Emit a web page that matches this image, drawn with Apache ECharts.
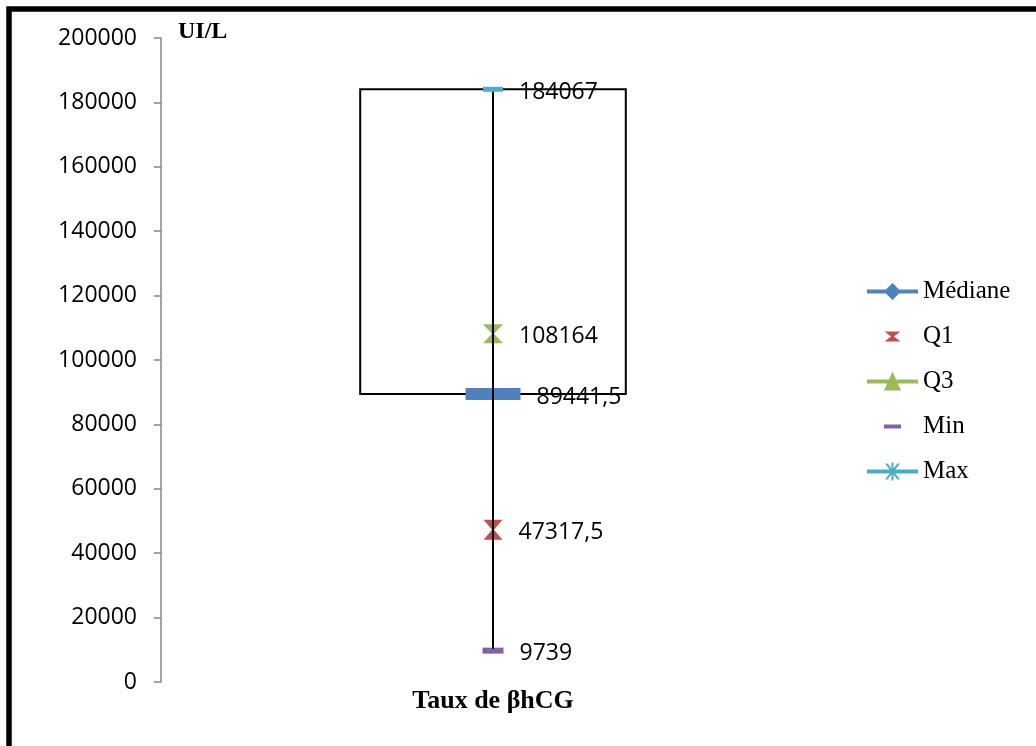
<!DOCTYPE html>
<html>
<head>
<meta charset="utf-8">
<script src="https://cdn.jsdelivr.net/npm/echarts@6/dist/echarts.min.js"></script>
<style>
html,body{margin:0;padding:0;background:#fff;}
#chart{width:1036px;height:746px;}
</style>
</head>
<body>
<div id="chart"></div>
<script>
const categories = ['Taux de βhCG'];
const seriesNames = ['Médiane', 'Q1', 'Q3', 'Min', 'Max'];
const medianValues = [89441.5];
const q1Values = [47317.5];
const q3Values = [108164];
const minValues = [9739];
const maxValues = [184067];
const yMin = 0, yMax = 200000, yInterval = 20000;
const yAxisName = 'UI/L';

const NUM_FONT = 'Open Sans';
const SERIF = 'Liberation Serif';

const colors = {
  'Médiane': '#4F81BD',
  'Q1': '#C0504D',
  'Q3': '#9BBB59',
  'Min': '#8064A2',
  'Max': '#4BACC6'
};

// legend icons (51 x 20 boxes)
const B = 'M0,0 M51,20 ';
const lineBar = 'M0,8 L51,8 L51,12 L0,12 Z ';
const legendIcons = {
  'Médiane': 'path://' + B + lineBar + 'M25.5,1.5 L34,10 L25.5,18.5 L17,10 Z',
  'Q1': 'path://' + B + 'M17.5,5 L33.5,5 L27,10 L33.5,15 L17.5,15 L24,10 Z',
  'Q3': 'path://' + B + lineBar + 'M25.5,0 L34,19 L17,19 Z',
  'Min': 'path://' + B + 'M17,8 L34,8 L34,12 L17,12 Z',
  'Max': 'path://' + B + lineBar + 'M18,2 L20.5,2 L33,18 L30.5,18 Z M20.5,18 L18,18 L30.5,2 L33,2 Z M24.5,1 L26.5,1 L26.5,19 L24.5,19 Z'
};

const hourglass = 'path://M0,0 L20,0 L11,10 L20,20 L0,20 L9,10 Z';

function fmt(p) { return String(p.value).replace('.', ','); }

function pointSeries(name, values, symbol, size) {
  return {
    name: name,
    type: 'scatter',
    data: values,
    symbol: symbol,
    symbolSize: size,
    itemStyle: { color: colors[name], opacity: 1 },
    z: 3,
    label: {
      show: true,
      position: 'right',
      distance: 16,
      offset: [0, 3],
      formatter: fmt,
      color: '#000',
      fontFamily: NUM_FONT,
      fontSize: 23
    },
    emphasis: { disabled: true }
  };
}

const chart = echarts.init(document.getElementById('chart'), null, { renderer: 'canvas' });

const option = {
  backgroundColor: '#fff',
  animation: false,
  graphic: [{
    type: 'rect',
    shape: { x: 9, y: 9, width: 2000, height: 2000 },
    style: { fill: 'none', stroke: '#000', lineWidth: 5.5 },
    silent: true,
    z: 100
  }],
  grid: { left: 161, top: 38, right: 211, bottom: 64 },
  legend: {
    orient: 'vertical',
    left: 867,
    top: 279,
    padding: 0,
    itemWidth: 51,
    itemHeight: 20,
    itemGap: 20,
    selectedMode: false,
    textStyle: { fontFamily: SERIF, fontSize: 25, color: '#000' },
    data: seriesNames.map(n => ({ name: n, icon: legendIcons[n] }))
  },
  xAxis: {
    type: 'category',
    data: categories,
    axisLine: { show: false },
    axisTick: { show: false },
    axisLabel: {
      margin: 6,
      fontFamily: SERIF,
      fontWeight: 'bold',
      fontSize: 26,
      color: '#000'
    },
    splitLine: { show: false }
  },
  yAxis: {
    type: 'value',
    min: yMin,
    max: yMax,
    interval: yInterval,
    name: yAxisName,
    nameLocation: 'end',
    nameGap: 6,
    nameTextStyle: {
      fontFamily: SERIF,
      fontWeight: 'bold',
      fontSize: 24,
      color: '#000',
      align: 'left',
      verticalAlign: 'middle',
      padding: [0, 0, 0, 17]
    },
    axisLine: { show: true, lineStyle: { color: '#868686', width: 1.5 } },
    axisTick: { show: true, length: 7, lineStyle: { color: '#868686', width: 1.5 } },
    axisLabel: {
      margin: 24,
      fontFamily: NUM_FONT,
      fontSize: 23,
      color: '#000',
      formatter: function (v) { return String(v); }
    },
    splitLine: { show: false }
  },
  series: [
    {
      name: 'box',
      type: 'custom',
      z: 1,
      silent: true,
      encode: { x: 0, y: [1, 2] },
      data: [[0, medianValues[0], maxValues[0]]],
      renderItem: function (params, api) {
        const lo = api.coord([api.value(0), api.value(1)]);
        const hi = api.coord([api.value(0), api.value(2)]);
        const w = api.size([1, 0])[0] * 0.4;
        return {
          type: 'rect',
          shape: { x: lo[0] - w / 2, y: hi[1], width: w, height: lo[1] - hi[1] },
          style: { fill: 'none', stroke: '#000', lineWidth: 2 }
        };
      }
    },
    pointSeries('Médiane', medianValues, 'rect', [55, 12]),
    pointSeries('Q1', q1Values, hourglass, [19, 20]),
    pointSeries('Q3', q3Values, hourglass, [20, 19]),
    pointSeries('Min', minValues, 'rect', [21, 6]),
    pointSeries('Max', maxValues, 'rect', [20, 5]),
    {
      name: 'whisker',
      type: 'custom',
      z: 4,
      silent: true,
      encode: { x: 0, y: [1, 2] },
      data: [[0, minValues[0], maxValues[0]]],
      renderItem: function (params, api) {
        const lo = api.coord([api.value(0), api.value(1)]);
        const hi = api.coord([api.value(0), api.value(2)]);
        return {
          type: 'line',
          shape: { x1: lo[0], y1: lo[1] - 2, x2: hi[0], y2: hi[1] + 2.5 },
          style: { stroke: '#000', lineWidth: 2 }
        };
      }
    }
  ]
};

chart.setOption(option);
</script>
</body>
</html>
